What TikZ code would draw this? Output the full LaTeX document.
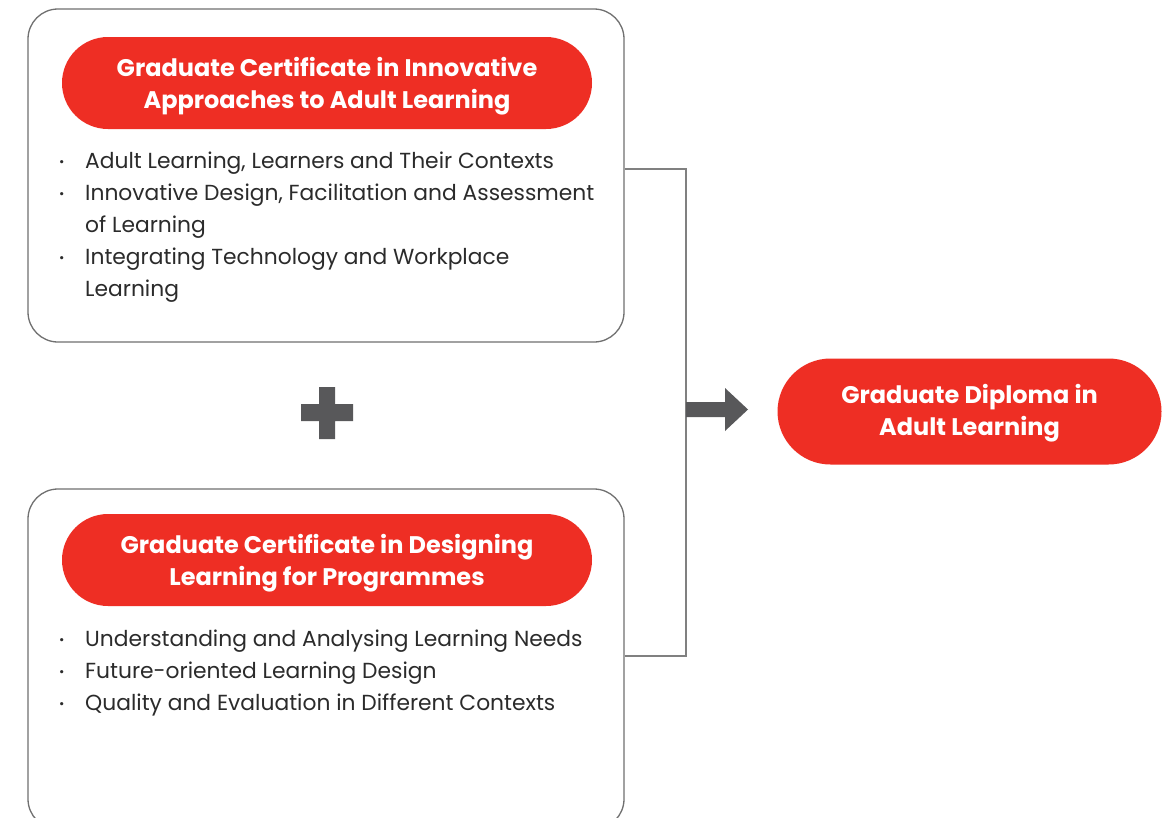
\documentclass[tikz,border=0pt]{standalone}
\usepackage{fontspec}
\setmainfont{Poppins}
\usetikzlibrary{positioning}
\definecolor{brandred}{HTML}{EE2E24}
\definecolor{boxgray}{HTML}{707070}
\definecolor{linegray}{HTML}{808080}
\definecolor{darkgray}{HTML}{58585A}
\definecolor{textgray}{HTML}{2B2B2B}
\tikzset{
  panel/.style={draw=boxgray, line width=1.3pt, rounded corners=30pt, fill=white, inner sep=0pt},
  pill/.style={fill=brandred, rounded corners=46pt, inner sep=0pt},
  pilltext/.style={text=white, inner sep=0pt, align=center,
    font=\fontsize{24}{32}\selectfont\bfseries},
  listtext/.style={text=textgray, inner sep=0pt, anchor=base west, font=\fontsize{21.8}{32}\selectfont},
  conn/.style={draw=linegray, line width=1.5pt},
}
\newcommand{\bul}{{\fontsize{13}{13}\selectfont\raisebox{2pt}{•}}}
\begin{document}
\begin{tikzpicture}[x=1pt,y=-1pt]
\clip (0,0) rectangle (1166,817);
\fill[white] (0,0) rectangle (1166,817);
% panels
\node[panel, minimum width=596pt, minimum height=333pt] (box1) at (326,175.5) {};
\node[panel, minimum width=596pt, minimum height=340pt] (box2) at (326,659) {};
% titles
\node[pill, minimum width=530pt, minimum height=92pt] (t1) at (327,83) {};
\node[pilltext] (t1txt) at (327,86) {Graduate Certificate in Innovative\\Approaches to Adult Learning};
\node[pill, minimum width=530pt, minimum height=92pt] (t2) at (327,560) {};
\node[pilltext] (t2txt) at (327,563) {Graduate Certificate in Designing\\Learning for Programmes};
\node[pill, minimum width=384pt, minimum height=106pt, rounded corners=53pt] (dip) at (969.5,411.5) {};
\node[pilltext] (diptxt) at (969.5,413) {Graduate Diploma in\\Adult Learning};
% lists
\node[listtext] (l1) at (59,168) {\begin{tabular}[t]{@{}p{26pt}@{}l@{}}
\bul & Adult Learning, Learners and Their Contexts\\
\bul & Innovative Design, Facilitation and Assessment\\
 & of Learning\\
\bul & Integrating Technology and Workplace\\
 & Learning
\end{tabular}};
\node[listtext] (l2) at (59,646) {\begin{tabular}[t]{@{}p{26pt}@{}l@{}}
\bul & Understanding and Analysing Learning Needs\\
\bul & Future-oriented Learning Design\\
\bul & Quality and Evaluation in Different Contexts
\end{tabular}};
% plus sign
\fill[darkgray] (319,387) -- (335,387) -- (335,404) -- (353,404) -- (353,421) -- (335,421) -- (335,439) -- (319,439) -- (319,421) -- (301,421) -- (301,404) -- (319,404) -- cycle;
% connector
\coordinate (j1) at (624,169);
\coordinate (j2) at (624,656);
\coordinate (b1) at (686,169);
\coordinate (b2) at (686,656);
\draw[conn] (box1.east |- j1) -- (b1) -- (b2) -- (box2.east |- j2);
% arrow
\coordinate (a0) at (686,409.5);
\fill[darkgray] (a0) ++(0,-7.5) -- (725,402) -- (725,388) -- (748,409.5) -- (725,431) -- (725,417) -- (686,417) -- cycle;
\end{tikzpicture}
\end{document}
